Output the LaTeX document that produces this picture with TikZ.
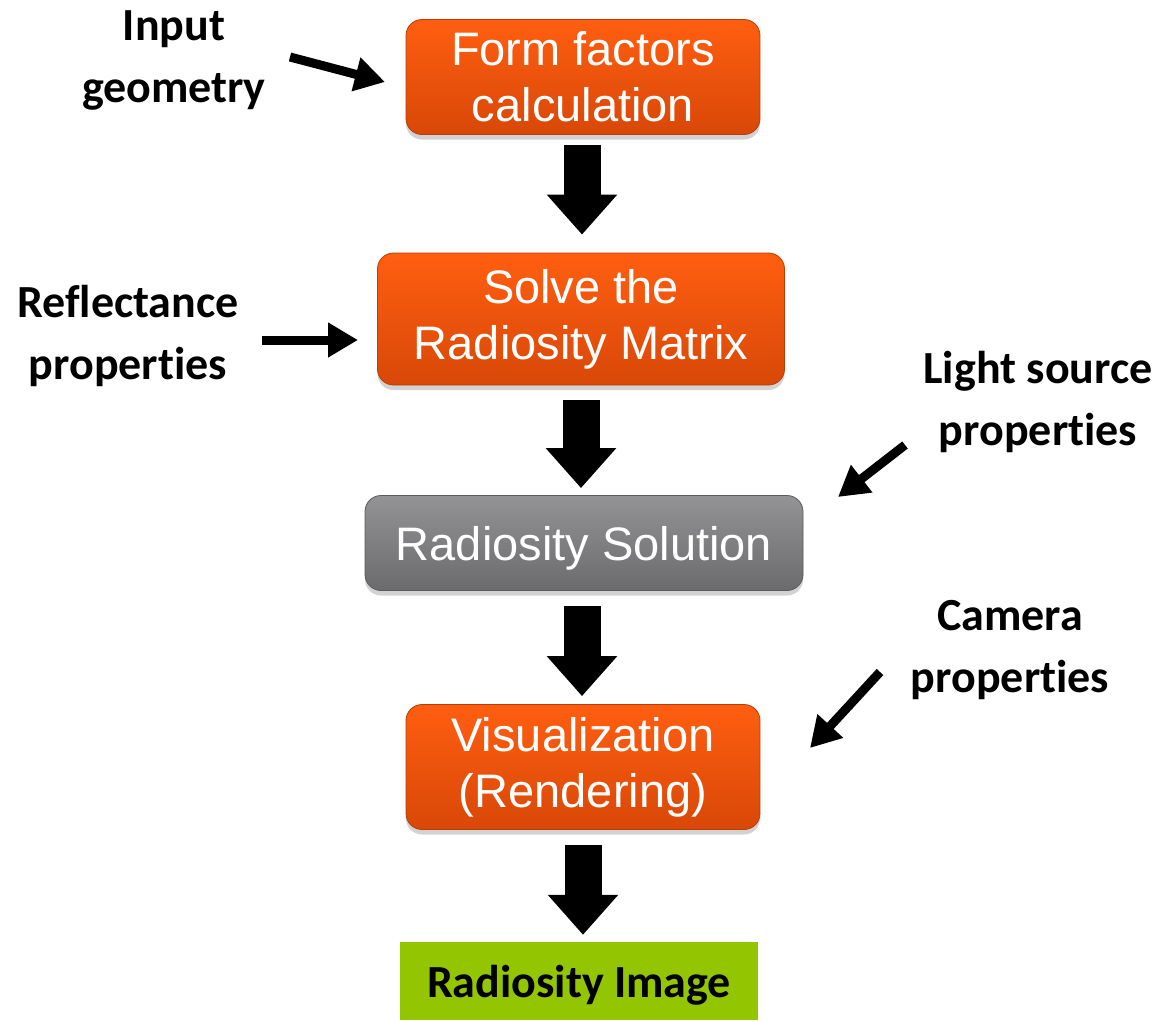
\documentclass[tikz,border=0pt]{standalone}
\usepackage{fontspec}
\setmainfont{Liberation Sans}
\newfontfamily\lab[Ligatures=NoCommon]{Carlito}
\usetikzlibrary{arrows.meta,shadows}
\definecolor{orT}{HTML}{FF5E10}
\definecolor{orB}{HTML}{D84808}
\definecolor{grT}{HTML}{939395}
\definecolor{grB}{HTML}{6B6B6D}
\definecolor{lime}{HTML}{93C500}
\begin{document}
\begin{tikzpicture}[x=1pt,y=-1pt,
  proc/.style={rounded corners=16pt, top color=orT, bottom color=orB, draw=orB!85!black, line width=0.8pt,
    text=white, font=\fontsize{47}{56}\selectfont, align=center, inner sep=0pt,
    drop shadow={shadow xshift=0pt, shadow yshift=-5pt, opacity=0.35}},
  grayproc/.style={proc, top color=grT, bottom color=grB, draw=grB!85!black},
  result/.style={fill=lime, text=black, font=\lab\bfseries\fontsize{46}{56}\selectfont, inner sep=0pt},
  lbl/.style={font=\lab\bfseries\fontsize{46}{62}\selectfont, align=center, text=black, inner sep=0pt},
  blk/.style={line width=37pt, black, -{Triangle[width=68pt,length=40pt]}},
  thin/.style={line width=9pt, black, -{Triangle[width=33pt,length=30pt]}}]
\useasboundingbox[fill=white] (0,0) rectangle (1161,1020);

% boxes
\node[proc, minimum width=354pt, minimum height=115pt] (ff) at (583,77) {Form factors\\calculation};
\node[proc, minimum width=407pt, minimum height=132pt] (sm) at (581,319) {Solve the\\Radiosity Matrix};
\node[grayproc, minimum width=438pt, minimum height=95pt, text depth=0pt] (rs) at (584,543) {Radiosity Solution};
\node[proc, minimum width=354pt, minimum height=125pt] (vis) at (583,767) {Visualization\\(Rendering)};
\node[result, minimum width=358pt, minimum height=78pt, text depth=0pt] (img) at (579,981) {Radiosity Image};

% block arrows
\draw[blk, shorten <=10pt, shorten >=18pt] (ff.south -| 582,0) -- (sm.north -| 582,0);
\draw[blk, shorten <=15pt, shorten >=7pt] (sm.south -| 581,0) -- (rs.north -| 581,0);
\draw[blk, shorten <=15pt, shorten >=8pt] (rs.south -| 582,0) -- (vis.north -| 582,0);
\draw[blk, shorten <=15pt, shorten >=7pt] (vis.south -| 583,0) -- (img.north -| 583,0);

% labels
\node[lbl] (lin) at (174,60) {Input\\geometry};
\node[lbl] (lref) at (128,336) {Reflectance\\properties};
\node[lbl] (llight) at (1038,402) {Light source\\properties};
\node[lbl] (lcam) at (1010,650) {Camera\\properties};

% small arrows
\coordinate (a1s) at (290,57);  \coordinate (a1e) at (385,82);
\coordinate (a2s) at (262,340); \coordinate (a2e) at (358,340);
\coordinate (a3s) at (905,445); \coordinate (a3e) at (838,497);
\coordinate (a4s) at (880,672); \coordinate (a4e) at (810,748);
\draw[thin] (a1s) -- (a1e);
\draw[thin] (a2s) -- (a2e);
\draw[thin] (a3s) -- (a3e);
\draw[thin] (a4s) -- (a4e);
\end{tikzpicture}
\end{document}
